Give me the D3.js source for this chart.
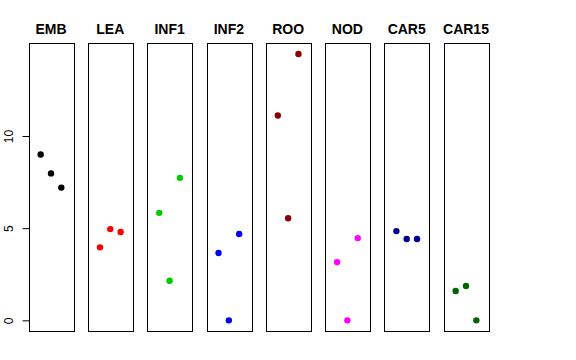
<!DOCTYPE html>
<html>
<head>
<meta charset="utf-8">
<script src="https://cdn.jsdelivr.net/npm/d3@7"></script>
<style>
html,body{margin:0;padding:0;background:#fff;}
svg{display:block;}
text{font-family:"Liberation Sans",Arial,Helvetica,sans-serif;}
</style>
</head>
<body>
<svg id="chart" width="576" height="360"></svg>
<script>
const categories = ["EMB","LEA","INF1","INF2","ROO","NOD","CAR5","CAR15"];
const colors = ["#000000","#FF0000","#00CD00","#0000FF","#8B0000","#FF00FF","#00008B","#006400"];
const rep = [1,2,3];
const EMB = [9.0, 7.97, 7.2];
const LEA = [3.96, 4.95, 4.79];
const INF1 = [5.83, 2.15, 7.73];
const INF2 = [3.65, 0.0, 4.68];
const ROO = [11.11, 5.54, 14.45];
const NOD = [3.16, 0.0, 4.46];
const CAR5 = [4.84, 4.41, 4.41];
const CAR15 = [1.59, 1.86, 0.0];
const yTicks = [0, 5, 10];
const seriesValues = [EMB, LEA, INF1, INF2, ROO, NOD, CAR5, CAR15];

const svg = d3.select("#chart");
const plotTop = 43.3, plotBottom = 331;

const band = d3.scaleBand().domain(categories).range([28.7, 488.3]).paddingInner(0.2476).paddingOuter(0);

const ymax = d3.max(seriesValues.flat()), ymin = 0;
const pad = (ymax - ymin) * 0.04;
const y = d3.scaleLinear().domain([ymin - pad, ymax + pad]).range([plotBottom, plotTop]);
const x = d3.scaleLinear().domain([-0.16, 4.16]);

categories.forEach((cat, i) => {
  const left = band(cat), w = band.bandwidth();
  const g = svg.append("g");
  const xl = x.copy().range([left, left + w]);
  g.append("rect")
    .attr("x", Math.round(left) + 0.5).attr("y", Math.round(plotTop) + 0.5)
    .attr("width", Math.round(w)).attr("height", Math.round(plotBottom - plotTop))
    .attr("fill", "none").attr("stroke", "#000").attr("stroke-width", 1);
  g.selectAll("circle").data(seriesValues[i]).enter().append("circle")
    .attr("cx", (d, j) => xl(rep[j]))
    .attr("cy", d => y(d))
    .attr("r", 3.2)
    .attr("fill", colors[i]);
  g.append("text")
    .attr("x", left + w / 2).attr("y", 34.3)
    .attr("text-anchor", "middle")
    .attr("font-weight", "bold").attr("font-size", "14px")
    .text(cat);
});

// y axis on first panel
const axisX = Math.round(band(categories[0])) + 0.5;
const axis = d3.axisLeft(y).tickValues(yTicks).tickSize(7).tickFormat(d3.format("d"));
const ag = svg.append("g").attr("transform", `translate(${axisX},0)`).call(axis);
ag.select(".domain").remove();
ag.selectAll(".tick line").attr("stroke", "#000");
ag.selectAll(".tick text")
  .attr("font-size", "12px").attr("fill", "#000")
  .attr("font-family", "Liberation Sans, Arial, sans-serif")
  .attr("transform", "rotate(-90)")
  .attr("x", 0).attr("y", -16.5)
  .attr("dy", 0)
  .attr("text-anchor", "middle");
</script>
</body>
</html>
